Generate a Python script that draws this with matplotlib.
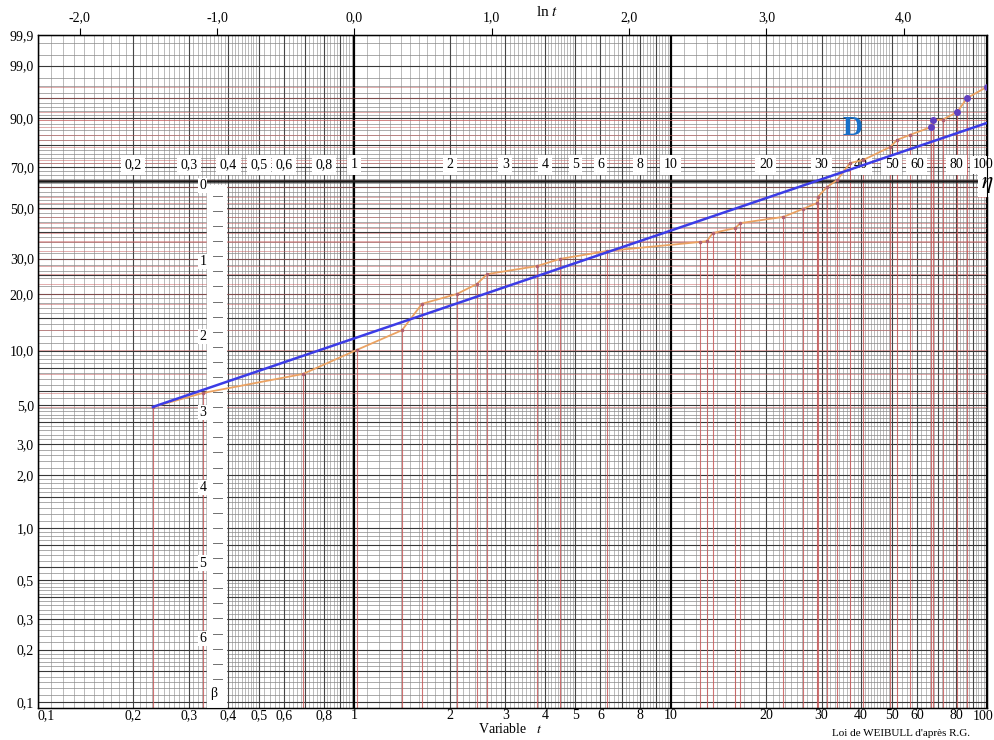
import numpy as np
import matplotlib
matplotlib.use("Agg")
import matplotlib.pyplot as plt
from matplotlib.transforms import offset_copy

# ---------------- data ----------------
t_obs = [0.231, 0.332, 0.688, 1.02, 1.415, 1.637, 2.11, 2.44, 2.63, 3.78, 4.47,
         6.29, 12.4, 13.0, 13.6, 16.0, 16.6, 22.7, 26.2, 29.0, 29.2, 31.2, 33.6,
         36.9, 40.6, 49.4, 52.0, 57.1, 66.6, 67.3, 72.6, 80.5, 86.5, 100.0]
F_obs = [4.87, 5.83, 7.44, 10.1, 12.9, 17.8, 20.0, 22.5, 25.2, 27.6, 29.9,
         32.6, 35.9, 36.2, 39.4, 41.4, 43.5, 46.2, 49.8, 52.5, 55.4, 60.2, 63.6,
         71.8, 73.2, 79.1, 82.1, 84.1, 87.0, 89.3, 89.5, 91.7, 95.0, 96.9]
purple_t = [66.6, 67.3, 80.5, 86.5, 100.0]
purple_F = [87.0, 89.3, 91.7, 95.0, 96.9]

beta_fit = 0.62      # slope of line D
eta_fit = 29.0       # scale of line D
line_t = [0.231, 100.0]

F_ticks = [0.1, 0.2, 0.3, 0.5, 1.0, 2.0, 3.0, 5.0, 10.0, 20.0, 30.0, 50.0, 70.0, 90.0, 99.0, 99.9]
F_labels = ["0,1", "0,2", "0,3", "0,5", "1,0", "2,0", "3,0", "5,0", "10,0", "20,0",
            "30,0", "50,0", "70,0", "90,0", "99,0", "99,9"]
t_ticks = [0.1, 0.2, 0.3, 0.4, 0.5, 0.6, 0.8, 1, 2, 3, 4, 5, 6, 8, 10, 20, 30, 40, 50, 60, 80]
t_labels = ["0,1", "0,2", "0,3", "0,4", "0,5", "0,6", "0,8", "1", "2", "3", "4", "5", "6",
            "8", "10", "20", "30", "40", "50", "60", "80"]
t_last, t_last_label = 100, "100"
mid_ticks = t_ticks[1:]
mid_labels = t_labels[1:]
lnt_ticks = [-2, -1, 0, 1, 2, 3, 4]
lnt_labels = ["-2,0", "-1,0", "0,0", "1,0", "2,0", "3,0", "4,0"]
beta_ticks = [0, 1, 2, 3, 4, 5, 6]

SERIF = ["Liberation Serif", "DejaVu Serif"]
plt.rcParams['font.family'] = SERIF
plt.rcParams['mathtext.fontset'] = 'stix'


def fwd(F):
    F = np.clip(np.asarray(F, dtype=float), 1e-9, 100 - 1e-9)
    return np.log(-np.log(1 - F / 100.0))


def inv(W):
    W = np.asarray(W, dtype=float)
    return 100.0 * (1 - np.exp(-np.exp(W)))


fig = plt.figure(figsize=(9.94, 7.40), dpi=100)
ax = fig.add_axes([38 / 994, 1 - 708 / 740, (987 - 38) / 994, (708 - 35) / 740])
ax.set_xscale('log')
ax.set_yscale('function', functions=(fwd, inv))
ymin = float(inv(-6.987))
ax.set_xlim(0.1, 100)
ax.set_ylim(ymin, 99.9)

# ---------------- grid of the Weibull paper ----------------
fine_x = []
for d in [0.1, 1.0, 10.0]:
    fine_x += list(np.arange(d, 2 * d, 0.1 * d)) + list(np.arange(2 * d, 5 * d, 0.1 * d)) \
        + list(np.arange(5 * d, 10 * d, 0.2 * d))
for x in fine_x:
    ax.axvline(x, color='#a0a0a0', lw=0.5, zorder=1)
for d in [0.1, 1.0, 10.0]:
    for k in range(2, 10):
        ax.axvline(k * d, color='#454545', lw=0.8, zorder=1.2)
for x in [0.1, 1, 10, 100]:
    ax.axvline(x, color='black', lw=1.6, zorder=1.4)

fine_F = np.concatenate([np.arange(0.1, 0.2, 0.01), np.arange(0.2, 0.5, 0.02),
                         np.arange(0.5, 1, 0.05), np.arange(1, 2, 0.1), np.arange(2, 5, 0.2),
                         np.arange(5, 10, 0.5), np.arange(10, 20, 1), np.arange(20, 90, 2),
                         np.arange(90, 99, 1), [99.5, 99.8]])
for F in fine_F:
    ax.axhline(F, color='#888888', lw=0.5, zorder=1)
for F in [0.15, 0.4, 0.6, 0.8, 1.5, 4, 6, 8, 15, 25, 40, 60, 80, 95] + F_ticks:
    ax.axhline(F, color='#383838', lw=0.8, zorder=1.2)

# red construction lines at each observation
for t, F in zip(t_obs, F_obs):
    ax.plot([t, t], [ymin, F], color='#c85a5a', lw=0.8, alpha=0.85, zorder=2)
    ax.axhline(F, color='#c86060', lw=0.6, alpha=0.6, zorder=2)
ax.axhline(inv(0.0), color='#1a1a1a', lw=1.8, zorder=2.5)

# beta scale strip
ax.fill_betweenx([ymin, inv(-0.06)], 0.342, 0.393, color='white', zorder=3)
for b in np.arange(0.2, 6.61, 0.2):
    ax.plot([0.357, 0.382], [inv(-b), inv(-b)], color='#707070', lw=0.7, zorder=3.5)
lab_tr = offset_copy(ax.transData, fig=fig, x=0, y=-5, units='dots')
for b in beta_ticks:
    ax.text(0.332, inv(-b), str(b), ha='center', va='center', fontsize=10, zorder=4,
            transform=lab_tr, bbox=dict(fc='white', ec='none', pad=0.8))
ax.text(0.36, inv(-6.79), "β", ha='center', va='center', fontsize=10, zorder=4,
        bbox=dict(fc='white', ec='none', pad=0.8))

# middle row of t labels
for t, lab in zip(mid_ticks, mid_labels):
    ax.text(t, inv(0.21), lab, ha='center', va='center',
            fontsize=10, zorder=4, bbox=dict(fc='white', ec='none', pad=2.5))
ax.text(t_last, inv(0.21), t_last_label, ha='right', va='center', fontsize=10, zorder=4,
        transform=offset_copy(ax.transData, fig=fig, x=6, y=0, units='dots'),
        bbox=dict(fc='white', ec='none', pad=1.5))

# ---------------- data curves ----------------
ax.plot(t_obs, F_obs, color='#eba262', lw=1.3, zorder=6)
ax.plot(t_obs, F_obs, ls='none', marker='o', ms=1.6, color='#b06070', zorder=6.5)
ax.plot(purple_t, purple_F, ls='none', marker='o', ms=4, color='#6040c0', zorder=7)
lt = np.array(line_t)
ax.plot(lt, inv(beta_fit * np.log(lt / eta_fit)), color='#3c3ce6', lw=1.8, zorder=7)

ax.text(37.5, inv(0.70), "D", color='#1870c8', fontsize=20, fontweight='bold',
        ha='center', va='center', zorder=8)
ax.text(100, inv(-0.05), r"$\eta$", fontsize=17, ha='right', va='center', zorder=8,
        transform=offset_copy(ax.transData, fig=fig, x=6, y=0, units='dots'),
        bbox=dict(fc='white', ec='none', pad=1.5))

# ---------------- axes / ticks ----------------
ax.set_yticks(F_ticks)
ax.set_yticklabels(F_labels)
ax.yaxis.set_minor_locator(matplotlib.ticker.NullLocator())
ax.tick_params(axis='y', length=0, pad=3, labelsize=10)
ax.set_xticks(t_ticks)
ax.set_xticklabels(t_labels)
ax.xaxis.set_minor_locator(matplotlib.ticker.NullLocator())
ax.tick_params(axis='x', length=0, pad=1, labelsize=10)
ax.get_xticklabels()[0].set_horizontalalignment('left')
ax.text(t_last, ymin, t_last_label, ha='right', va='top', fontsize=10,
        transform=offset_copy(ax.transData, fig=fig, x=6, y=-2, units='dots'))
for s in ax.spines.values():
    s.set_color('black')
    s.set_linewidth(1.0)

top = ax.twiny()
top.set_xscale('log')
top.set_xlim(ax.get_xlim())
top.set_xticks(np.exp(lnt_ticks))
top.set_xticklabels(lnt_labels)
top.xaxis.set_minor_locator(matplotlib.ticker.NullLocator())
top.tick_params(axis='x', direction='out', length=5, width=0.8, pad=3, labelsize=10)

fig.text(547 / 994, 1 - 12 / 740, r"ln $t$", fontsize=11, ha='center', va='center')
fig.text(510 / 994, 1 - 729 / 740, r"Variable   $t$", fontsize=10, ha='center', va='center')
fig.text(832 / 994, 1 - 734 / 740, "Loi de WEIBULL d'après R.G.", fontsize=8,
         ha='left', va='center')

fig.savefig("out.png", dpi=100)
